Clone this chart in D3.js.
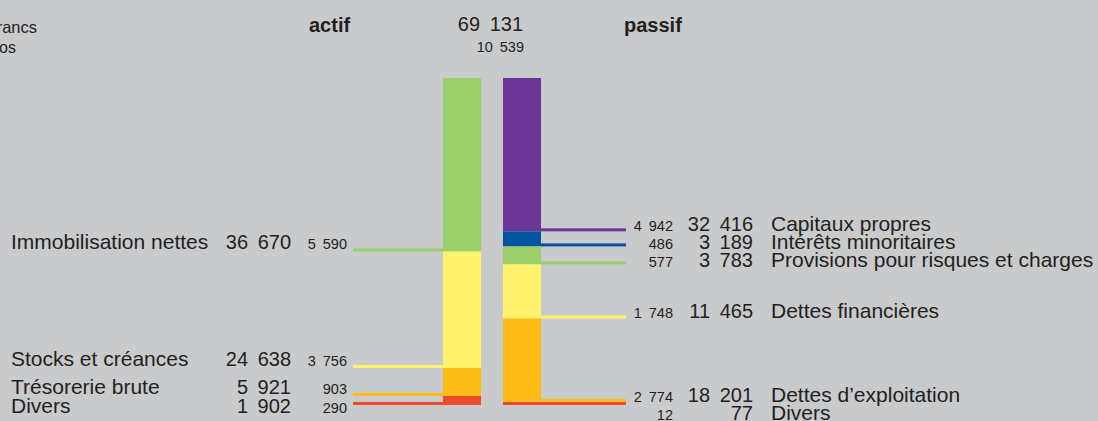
<!DOCTYPE html>
<html>
<head>
<meta charset="utf-8">
<script src="https://cdn.jsdelivr.net/npm/d3@7"></script>
<style>
  html, body { margin: 0; padding: 0; background: #c9cacc; }
  svg { display: block; }
  text { font-family: "Liberation Sans", Arial, Helvetica, sans-serif; fill: #231f20; }
  text.num { word-spacing: 0.2em; }
</style>
</head>
<body>
<svg id="chart" width="1098" height="421"></svg>
<script>
// ---- data ----
const sides = ["actif", "passif"];
const totalFrancs = 69131;
const totalEuros = 10539;
const unitLines = ["en millions de francs", "en millions d’euros"];

const actifLabels = ["Immobilisation nettes", "Stocks et créances", "Trésorerie brute", "Divers"];
const actifFrancs = [36670, 24638, 5921, 1902];
const actifEuros = [5590, 3756, 903, 290];
const actifColors = ["#9bcf69", "#fff36e", "#fdbc15", "#ef4a30"];

const passifLabels = ["Capitaux propres", "Intérêts minoritaires", "Provisions pour risques et charges",
                      "Dettes financières", "Dettes d’exploitation", "Divers"];
const passifFrancs = [32416, 3189, 3783, 11465, 18201, 77];
const passifEuros = [4942, 486, 577, 1748, 2774, 12];
const passifColors = ["#6c3696", "#0054a0", "#9bcf69", "#fff36e", "#fdbc15", "#ef4a30"];

// ---- layout ----
const svg = d3.select("#chart");
const fmt = d3.formatLocale({ decimal: ",", thousands: " ", grouping: [3], currency: ["", ""] }).format(",d");

const x = d3.scaleBand().domain(sides).range([443, 541]).paddingInner(22 / 60).paddingOuter(0);
const y = d3.scaleLinear().domain([0, totalFrancs]).range([78, 405]);
const minH = 3;

function segments(values) {
  let cum = 0;
  const segs = values.map(v => { const s = { y0: y(cum), y1: y(cum + v) }; cum += v; return s; });
  for (let i = segs.length - 1; i >= 0; i--) {
    if (segs[i].y1 - segs[i].y0 < minH) segs[i].y0 = segs[i].y1 - minH;
    if (i > 0 && segs[i - 1].y1 > segs[i].y0) segs[i - 1].y1 = segs[i].y0;
  }
  return segs;
}

function labelBaselines(segs, offset, gap) {
  const out = [];
  segs.forEach((s, i) => {
    let b = s.y1 + offset;
    if (i > 0 && b < out[i - 1] + gap) b = out[i - 1] + gap;
    out.push(b);
  });
  return out;
}

// header
svg.append("text").attr("x", 37).attr("y", 33).attr("text-anchor", "end")
  .style("font-size", "16.5px").text(unitLines[0]);
svg.append("text").attr("x", 16).attr("y", 53).attr("text-anchor", "end")
  .style("font-size", "16px").text(unitLines[1]);
svg.append("text").attr("x", 309).attr("y", 32).style("font-size", "20px").style("font-weight", "bold").text(sides[0]);
svg.append("text").attr("x", 624).attr("y", 32).style("font-size", "20px").style("font-weight", "bold").text(sides[1]);
svg.append("text").attr("class", "num").attr("x", 523).attr("y", 31).attr("text-anchor", "end").style("font-size", "20px").text(fmt(totalFrancs));
svg.append("text").attr("class", "num").attr("x", 524).attr("y", 52).attr("text-anchor", "end").style("font-size", "14.5px").text(fmt(totalEuros));

function drawSide(side, labels, francs, euros, colors) {
  const segs = segments(francs);
  const bx = x(side), bw = x.bandwidth();
  const g = svg.append("g");
  g.selectAll("rect.seg").data(segs).join("rect")
    .attr("x", bx).attr("width", bw)
    .attr("y", d => d.y0).attr("height", d => d.y1 - d.y0)
    .attr("fill", (d, i) => colors[i]);

  const isLeft = side === "actif";
  const lx0 = isLeft ? 353 : bx + bw;
  const lx1 = isLeft ? bx : 626;
  g.selectAll("rect.lead").data(segs).join("rect")
    .attr("x", lx0).attr("width", lx1 - lx0)
    .attr("y", d => d.y1 - 3).attr("height", 3)
    .attr("fill", (d, i) => colors[i]);

  const base = labelBaselines(segs, isLeft ? -2 : -0.5, isLeft ? 19 : 18);
  const cols = isLeft
    ? { name: 11, fr: 291, eu: 347 }
    : { name: 771, fr: 753, eu: 673 };

  labels.forEach((lab, i) => {
    g.append("text").attr("x", cols.name).attr("y", base[i])
      .style("font-size", "21px").text(lab);
    g.append("text").attr("class", "num").attr("x", cols.fr).attr("y", base[i]).attr("text-anchor", "end")
      .style("font-size", "20px").text(fmt(francs[i]));
    g.append("text").attr("class", "num").attr("x", cols.eu).attr("y", base[i]).attr("text-anchor", "end")
      .style("font-size", "14.5px").text(fmt(euros[i]));
  });
}

drawSide("actif", actifLabels, actifFrancs, actifEuros, actifColors);
drawSide("passif", passifLabels, passifFrancs, passifEuros, passifColors);
</script>
</body>
</html>
